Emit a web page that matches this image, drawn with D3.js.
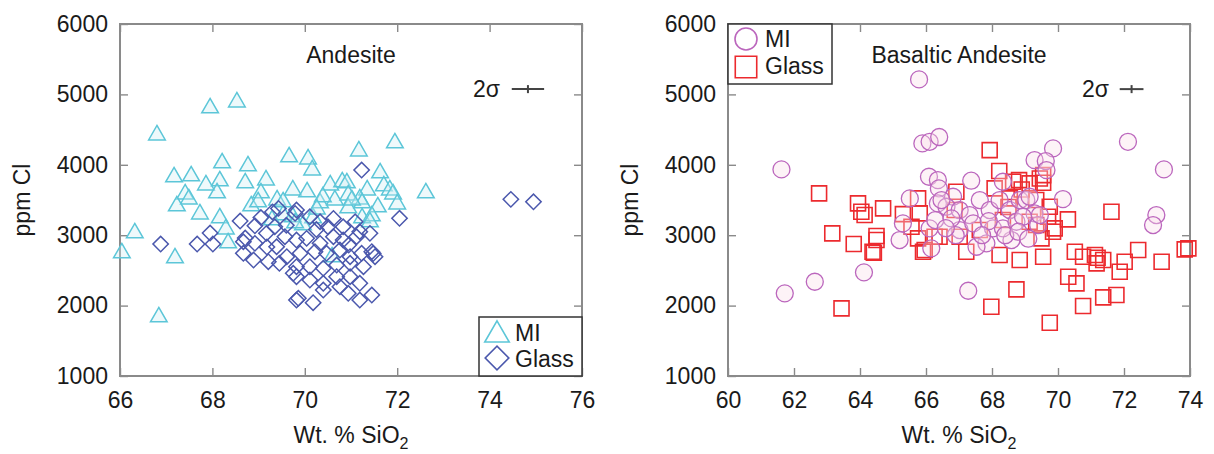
<!DOCTYPE html>
<html>
<head>
<meta charset="utf-8">
<script src="https://cdn.jsdelivr.net/npm/d3@7/dist/d3.min.js"></script>
<style>
  html, body { margin: 0; padding: 0; background: #fff; }
  svg { display: block; font-family: "Liberation Sans", Arial, sans-serif; }
</style>
</head>
<body>
<svg id="chart" width="1214" height="454"></svg>
<script>
// Andesite: melt inclusions [SiO2 wt%, Cl ppm]
const andesiteMI = [
  [66.80,4422],[67.95,4806],[68.53,4891],[67.17,3826],[67.54,3840],[68.21,4025],
  [68.77,3982],[69.66,4110],[67.86,3712],[68.16,3769],[68.71,3741],[69.16,3783],
  [68.10,3599],[67.41,3584],[67.49,3513],[67.23,3414],[67.73,3300],[68.16,3244],
  [69.05,3599],[69.74,3641],[69.40,3499],[68.84,3414],[68.99,3471],[66.32,3031],
  [66.04,2747],[67.19,2676],[66.84,1838],[68.29,3087],[68.34,2889],[69.53,3286],
  [69.74,3258],[69.29,3215],[70.07,4081],[70.16,3925],[71.17,4195],[71.95,4309],
  [71.63,3883],[70.05,3613],[70.55,3712],[70.81,3755],[70.91,3741],[71.35,3641],
  [71.71,3698],[71.84,3641],[71.91,3584],[72.62,3599],[70.65,3499],[70.94,3570],
  [71.19,3513],[70.33,3457],[69.53,3471],[71.58,3400],[72.00,3442],[70.18,3244],
  [71.24,3244],[71.45,3272],[71.24,3457],[70.94,3386],[70.39,3542],[70.26,3371],
  [71.02,3499],[69.96,3144],[70.59,2690],[69.79,3173],[71.41,3187]
];

// Andesite: matrix glass
const andesiteGlass = [
  [66.88,2874],[67.67,2874],[67.95,3031],[68.01,2874],[68.60,3201],[68.92,3134],
  [68.67,2907],[68.92,2884],[69.17,3026],[69.35,3120],[68.67,2742],[68.89,2647],
  [69.21,2623],[69.39,2836],[69.57,2978],[69.61,2694],[69.75,2458],[69.82,2079],
  [69.79,3310],[69.43,3381],[68.71,2960],[69.18,2832],[69.30,3330],
  [69.82,3357],[70.11,3262],[70.33,3191],[70.62,3239],[70.83,3120],[71.09,3191],
  [71.19,3049],[69.82,2931],[70.04,2955],[70.33,2884],[70.62,2978],[70.83,2931],
  [71.12,2978],[71.41,3026],[69.90,2742],[70.22,2765],[70.47,2742],[70.76,2789],
  [70.98,2694],[71.23,2742],[71.45,2765],[71.52,2694],[69.82,2552],[70.11,2552],
  [70.40,2529],[70.69,2576],[70.98,2600],[71.27,2552],[69.82,2410],[70.11,2363],
  [70.40,2316],[70.69,2410],[70.98,2410],[71.19,2316],[70.40,2221],[70.76,2268],
  [70.94,2174],[71.19,2079],[71.45,2150],[69.86,2103],[70.18,2041],[71.48,2740],
  [69.05,3250],[69.60,3140],[70.25,3080],[70.50,3120],[69.45,2600],[70.95,2860],
  [71.23,3925],[72.05,3240],[74.46,3509],[74.95,3475]
];

// Basaltic andesite: melt inclusions
const basalticMI = [
  [65.79,5213],[65.89,4304],[66.11,4327],[66.40,4395],[61.62,3935],[66.09,3830],
  [66.36,3783],[66.39,3665],[65.51,3523],[66.36,3452],[65.30,3168],[65.20,2931],
  [66.11,3097],[66.16,2813],[66.28,3215],[64.12,2472],[62.63,2339],[61.72,2174],
  [72.12,4327],[73.21,3935],[69.85,4233],[69.29,4067],[69.63,4053],[69.65,3925],
  [67.37,3774],[70.15,3513],[72.98,3286],[72.88,3144],[67.28,2211],[66.82,3546],
  [66.62,3404],[67.02,3357],[67.32,3286],[67.63,3499],[67.93,3357],[68.23,3499],
  [68.33,3759],[68.54,3357],[68.84,3499],[69.04,3499],[69.29,3310],[69.40,3144],
  [69.45,3286],[68.59,2931],[67.83,2884],[67.53,2836],[67.02,3073],[66.77,3239],
  [67.43,3168],[68.03,3097],[68.33,3097],[68.74,3191],[68.94,3262],[66.47,3499],
  [69.14,3546],[67.90,3200],[68.40,3000],[66.90,3000],[67.70,3000],[68.80,3050],
  [69.10,2950],[66.60,3100]
];

// Basaltic andesite: matrix glass
const basalticGlass = [
  [62.76,3594],[63.94,3452],[64.04,3333],[64.14,3286],[64.70,3381],[65.30,3300],
  [65.76,3523],[65.81,3310],[65.56,3120],[63.16,3026],[63.81,2874],[64.50,2988],
  [64.50,2931],[64.38,2765],[64.42,2750],[65.76,2955],[66.26,2978],[65.91,2765],
  [63.44,1961],[67.93,4209],[68.22,3911],[68.08,3665],[68.64,3759],[68.82,3783],
  [69.14,3736],[69.55,3745],[69.55,3854],[66.92,3617],[66.87,3357],[68.54,3523],
  [69.34,3499],[69.75,3404],[69.70,3262],[70.30,3225],[69.90,3097],[69.50,2955],
  [67.22,2765],[68.23,2718],[68.84,2647],[69.55,2694],[70.51,2765],[70.76,2694],
  [71.12,2718],[71.17,2600],[71.37,2647],[71.62,3333],[72.02,2623],[71.87,2481],
  [72.43,2789],[73.14,2623],[73.84,2799],[73.95,2813],[70.31,2410],[70.56,2316],
  [68.74,2231],[67.98,1984],[70.76,1994],[71.37,2117],[71.77,2150],[69.75,1757],
  [67.63,3073],[68.33,3215],[69.14,3191],[69.34,3144],[69.85,3049],[67.02,2978],
  [66.41,2978],[69.45,3806],[65.96,2789],[71.20,2680],[68.90,3650],[68.50,3400]
];

// Axis ticks
const andesiteXTicks = [66, 68, 70, 72, 74, 76];
const basalticXTicks = [60, 62, 64, 66, 68, 70, 72, 74];
const clTicks = [1000, 2000, 3000, 4000, 5000, 6000];

// 2-sigma analytical uncertainty: [center SiO2, center Cl, ±SiO2, ±Cl]
const andesiteErr = [74.83, 5075, 0.35, 57];
const basalticErr = [72.23, 5075, 0.36, 57];

const svg = d3.select("#chart");
const FONT = 23;
const frameColor = "#8a8a8a";
const textColor = "#1a1a1a";

const colors = {
  tri: "#5cc6d8",
  diamond: "#4b58ad",
  circle: "#bb66bd",
  square: "#ec2a2e"
};

function panel(opts) {
  const { left, right, top, bottom } = opts;
  const g = svg.append("g");
  const x = d3.scaleLinear().domain(opts.xDomain).range([left, right]);
  const y = d3.scaleLinear().domain([1000, 6000]).range([bottom, top]);

  // inward ticks on all four sides
  const tickLen = 8;
  const axB = g.append("g").attr("transform", `translate(0,${bottom})`)
    .call(d3.axisBottom(x).tickValues(opts.xTicks).tickSizeInner(-tickLen).tickSizeOuter(0).tickPadding(16).tickFormat(d3.format("d")));
  const axL = g.append("g").attr("transform", `translate(${left},0)`)
    .call(d3.axisLeft(y).tickValues(clTicks).tickSizeInner(-tickLen).tickSizeOuter(0).tickPadding(12).tickFormat(d3.format("d")));
  const axT = g.append("g").attr("transform", `translate(0,${top})`)
    .call(d3.axisTop(x).tickValues(opts.xTicks).tickSizeInner(-tickLen).tickSizeOuter(0).tickFormat(""));
  const axR = g.append("g").attr("transform", `translate(${right},0)`)
    .call(d3.axisRight(y).tickValues(clTicks).tickSizeInner(-tickLen).tickSizeOuter(0).tickFormat(""));
  [axB, axL, axT, axR].forEach(a => {
    a.select(".domain").remove();
    a.selectAll(".tick line").attr("stroke", frameColor).attr("stroke-width", 1.4);
    a.selectAll(".tick text").attr("fill", textColor).style("font-size", FONT + "px")
      .style("font-family", "'Liberation Sans', Arial, sans-serif");
  });

  // frame
  g.append("rect")
    .attr("x", left).attr("y", top)
    .attr("width", right - left).attr("height", bottom - top)
    .attr("fill", "none").attr("stroke", frameColor).attr("stroke-width", 2);

  // axis titles
  const xl = g.append("text")
    .attr("x", (left + right) / 2).attr("y", 443)
    .attr("text-anchor", "middle").attr("fill", textColor)
    .style("font-size", FONT + "px");
  xl.append("tspan").text("Wt. % SiO");
  xl.append("tspan").text("2").attr("dy", 6).style("font-size", (FONT * 0.7) + "px");

  g.append("text")
    .attr("transform", `translate(${opts.yLabelX},${(top + bottom) / 2}) rotate(-90)`)
    .attr("text-anchor", "middle").attr("fill", textColor)
    .style("font-size", FONT + "px")
    .text("ppm Cl");

  // panel title
  g.append("text")
    .attr("x", (left + right) / 2).attr("y", 63)
    .attr("text-anchor", "middle").attr("fill", textColor)
    .style("font-size", FONT + "px")
    .text(opts.title);

  // 2σ bar
  const e = opts.err;
  g.append("text")
    .attr("x", opts.sigmaX).attr("y", 97)
    .attr("fill", textColor).style("font-size", FONT + "px")
    .text("2σ");
  const eg = g.append("g").attr("stroke", "#444").attr("stroke-width", 2);
  eg.append("line")
    .attr("x1", x(e[0] - e[2])).attr("x2", x(e[0] + e[2]))
    .attr("y1", y(e[1])).attr("y2", y(e[1]));
  eg.append("line")
    .attr("x1", x(e[0])).attr("x2", x(e[0]))
    .attr("y1", y(e[1] - e[3])).attr("y2", y(e[1] + e[3]));

  return { g, x, y };
}

function drawSeries(p, data, symbol, size, color, fill, rotate, sw) {
  const gen = d3.symbol().type(symbol).size(size);
  p.g.append("g").selectAll("path").data(data).join("path")
    .attr("d", gen)
    .attr("transform", d => `translate(${p.x(d[0])},${p.y(d[1])})` + (rotate ? ` rotate(${rotate})` : ""))
    .attr("fill", fill)
    .attr("stroke", color)
    .attr("stroke-width", sw);
}

function legend(g, x0, y0, w, h, items) {
  g.append("rect").attr("x", x0).attr("y", y0).attr("width", w).attr("height", h)
    .attr("fill", "#fff").attr("stroke", "#333").attr("stroke-width", 1.5);
  items.forEach(it => {
    const gen = d3.symbol().type(it.symbol).size(it.size);
    g.append("path").attr("d", gen)
      .attr("transform", `translate(${it.cx},${it.cy})` + (it.rotate ? ` rotate(${it.rotate})` : ""))
      .attr("fill", "none").attr("stroke", it.color).attr("stroke-width", 1.6);
    g.append("text").attr("x", it.tx).attr("y", it.ty)
      .attr("fill", textColor).style("font-size", FONT + "px").text(it.label);
  });
}

// Andesite panel
const pA = panel({
  left: 120, right: 582, top: 24, bottom: 376,
  xDomain: [66, 76], xTicks: andesiteXTicks,
  yLabelX: 30, title: "Andesite", sigmaX: 473, err: andesiteErr
});
drawSeries(pA, andesiteMI, d3.symbolTriangle, 120, colors.tri, "rgba(205,238,244,0.35)", 0, 1.5);
drawSeries(pA, andesiteGlass, d3.symbolSquare, 118, colors.diamond, "none", 45, 1.5);
legend(pA.g, 479, 317, 103, 59, [
  { symbol: d3.symbolTriangle, size: 260, color: colors.tri, cx: 497, cy: 335, tx: 515, ty: 341, label: "MI" },
  { symbol: d3.symbolSquare, size: 280, color: colors.diamond, rotate: 45, cx: 497, cy: 358, tx: 515, ty: 367, label: "Glass" }
]);

// Basaltic andesite panel
const pB = panel({
  left: 728, right: 1190, top: 24, bottom: 376,
  xDomain: [60, 74], xTicks: basalticXTicks,
  yLabelX: 638, title: "Basaltic Andesite", sigmaX: 1082, err: basalticErr
});
drawSeries(pB, basalticGlass, d3.symbolSquare, 225, colors.square, "none", 0, 1.6);
drawSeries(pB, basalticMI, d3.symbolCircle, 227, colors.circle, "rgba(248,222,232,0.35)", 0, 1.3);
legend(pB.g, 728, 24, 104, 60, [
  { symbol: d3.symbolCircle, size: 380, color: colors.circle, cx: 746, cy: 39, tx: 765, ty: 47, label: "MI" },
  { symbol: d3.symbolSquare, size: 460, color: colors.square, cx: 746, cy: 67, tx: 765, ty: 74, label: "Glass" }
]);
</script>
</body>
</html>
